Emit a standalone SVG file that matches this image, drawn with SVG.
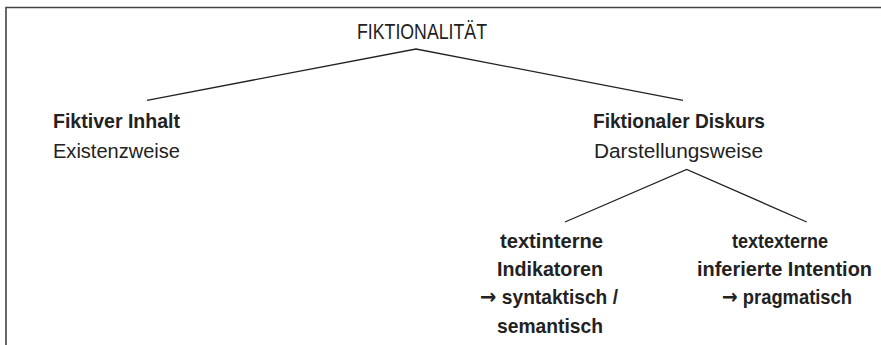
<svg xmlns="http://www.w3.org/2000/svg" width="881" height="345" viewBox="0 0 881 345">
<style>
text{font-family:"Liberation Sans","DejaVu Sans",sans-serif;fill:#222;font-size:20.5px}
.b{font-weight:bold}
.t{font-size:22px}
.a{font-family:"DejaVu Sans",sans-serif;font-size:21px}
.c{fill:none;stroke:#222;stroke-width:1.3}
.frame{fill:none;stroke:#444;stroke-width:1.6}
</style>
<rect width="881" height="345" fill="#fff"/>
<path class="frame" d="M6,345 V7.5 H881"/>
<g id="connectors">
<polyline class="c" points="147,100.3 416,49 683,100.3"/>
<polyline class="c" points="565,222 686.7,169.5 806.7,222"/>
</g>
<g id="root"><text class="t" x="357" y="39" textLength="130" lengthAdjust="spacingAndGlyphs">FIKTIONALITÄT</text></g>
<g id="inhalt">
<text class="b" x="53" y="128" textLength="127" lengthAdjust="spacingAndGlyphs">Fiktiver Inhalt</text>
<text x="53" y="158" textLength="127" lengthAdjust="spacingAndGlyphs">Existenzweise</text>
</g>
<g id="diskurs">
<text class="b" x="593" y="128" textLength="172" lengthAdjust="spacingAndGlyphs">Fiktionaler Diskurs</text>
<text x="594" y="158" textLength="169" lengthAdjust="spacingAndGlyphs">Darstellungsweise</text>
</g>
<g id="textintern">
<text class="b" x="500" y="248" textLength="103" lengthAdjust="spacingAndGlyphs">textinterne</text>
<text class="b" x="497" y="276" textLength="106" lengthAdjust="spacingAndGlyphs">Indikatoren</text>
<text class="b" x="480" y="304" textLength="138" lengthAdjust="spacingAndGlyphs"><tspan class="a">→</tspan> syntaktisch /</text>
<text class="b" x="497" y="333" textLength="106" lengthAdjust="spacingAndGlyphs">semantisch</text>
</g>
<g id="textextern">
<text class="b" x="732" y="248" textLength="96" lengthAdjust="spacingAndGlyphs">textexterne</text>
<text class="b" x="697" y="276" textLength="175" lengthAdjust="spacingAndGlyphs">inferierte Intention</text>
<text class="b" x="722" y="304" textLength="130" lengthAdjust="spacingAndGlyphs"><tspan class="a">→</tspan> pragmatisch</text>
</g>
</svg>
